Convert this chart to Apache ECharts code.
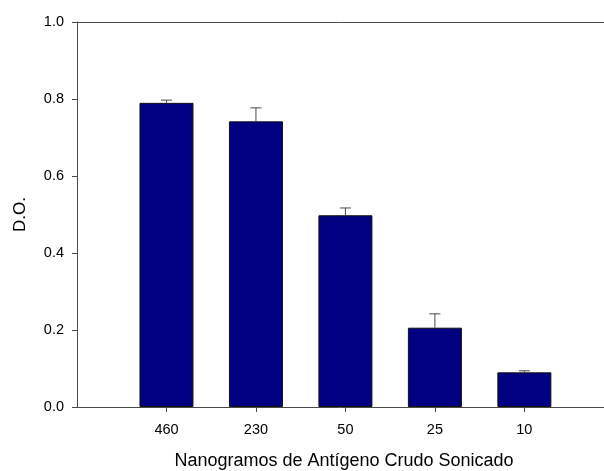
<!DOCTYPE html>
<html>
<head>
<meta charset="utf-8">
<script src="https://cdn.jsdelivr.net/npm/echarts@6/dist/echarts.min.js"></script>
<style>html,body{margin:0;padding:0;background:#fff;}#c{width:604px;height:471px;}</style>
</head>
<body>
<div id="c"></div>
<script>
const categories = ['460', '230', '50', '25', '10'];
const positions = [1, 2, 3, 4, 5];
const values = [0.790, 0.742, 0.498, 0.206, 0.090];
const errors = [0.007, 0.035, 0.019, 0.036, 0.004];

const font = "'Liberation Sans', Arial, sans-serif";
const axisColor = '#4a4a4a';

const chart = echarts.init(document.getElementById('c'), null, {renderer: 'canvas'});
const barData = positions.map((p, i) => [p, values[i]]);
const errData = positions.map((p, i) => [p, values[i], values[i] + errors[i]]);

chart.setOption({
  animation: false,
  backgroundColor: '#fff',
  grid: {left: 77, right: 0, top: 22, bottom: 64, containLabel: false, outerBoundsMode: 'none'},
  xAxis: [{
    type: 'value', min: 0, max: 5.89, position: 'bottom',
    name: 'Nanogramos de Antígeno Crudo Sonicado',
    nameLocation: 'middle', nameGap: 45,
    nameTextStyle: {fontFamily: font, fontSize: 18, color: '#000', padding: [0, 0, 0, 7]},
    axisLine: {show: true, lineStyle: {color: axisColor, width: 1}},
    axisTick: {show: true, length: 5, lineStyle: {color: axisColor}, customValues: positions},
    axisLabel: {fontFamily: font, fontSize: 14.5, color: '#000', margin: 15,
      customValues: positions,
      formatter: v => categories[positions.indexOf(Math.round(v))] || ''},
    splitLine: {show: false}
  }, {
    type: 'value', min: 0, max: 5.89, position: 'top',
    axisLine: {show: true, lineStyle: {color: axisColor, width: 1}},
    axisTick: {show: false}, axisLabel: {show: false}, splitLine: {show: false}
  }],
  yAxis: {
    type: 'value', min: 0, max: 1, interval: 0.2,
    name: 'D.O.', nameLocation: 'middle', nameGap: 48,
    nameTextStyle: {fontFamily: font, fontSize: 17, color: '#000'},
    axisLine: {show: true, lineStyle: {color: axisColor, width: 1}},
    axisTick: {show: true, length: 5, lineStyle: {color: axisColor}},
    axisLabel: {fontFamily: font, fontSize: 14.5, color: '#000', margin: 13,
      formatter: v => v.toFixed(1)},
    splitLine: {show: false}
  },
  series: [{
    type: 'bar', data: barData, barWidth: 54,
    itemStyle: {color: '#000080', borderColor: '#111', borderWidth: 1}
  }, {
    type: 'custom', data: errData,
    encode: {x: 0, y: [1, 2]},
    z: 3,
    renderItem: function (params, api) {
      const x = api.value(0);
      const lo = api.coord([x, api.value(1)]);
      const hi = api.coord([x, api.value(2)]);
      const half = 5.5;
      const style = {stroke: axisColor, lineWidth: 1};
      return {type: 'group', children: [
        {type: 'line', shape: {x1: lo[0], y1: lo[1], x2: hi[0], y2: hi[1]}, style: style},
        {type: 'line', shape: {x1: hi[0] - half, y1: hi[1], x2: hi[0] + half, y2: hi[1]}, style: style}
      ]};
    }
  }]
});
</script>
</body>
</html>
